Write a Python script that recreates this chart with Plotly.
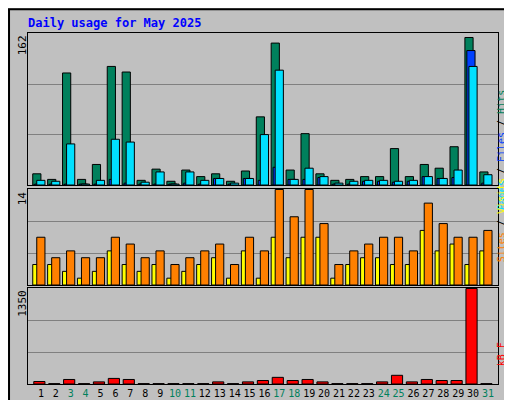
import plotly.graph_objects as go
from plotly.subplots import make_subplots

days = list(range(1, 32))
hits = [12, 6, 120, 6, 22, 127, 121, 5, 17, 4, 16, 9, 12, 4, 15, 73,
        152, 16, 55, 12, 5, 6, 9, 9, 39, 9, 22, 18, 41, 158, 14]
cyan_vals = [5, 4, 44, 1, 5, 49, 46, 3, 14, 1, 14, 5, 7, 2, 7, 54,
             123, 6, 18, 9, 2, 4, 5, 5, 4, 5, 9, 7, 16, 127, 11]
blue_vals = [1, 1, 1, 1, 1, 6, 2, 1, 1, 1, 2, 1, 7, 1, 7, 5,
             19, 6, 6, 8, 1, 1, 4, 4, 3, 4, 9, 7, 8, 144, 2]
visits = [7, 4, 5, 4, 4, 7, 6, 4, 5, 3, 4, 5, 6, 3, 7, 5,
          14, 10, 14, 9, 3, 5, 6, 7, 7, 5, 12, 9, 7, 7, 8]
sites = [3, 3, 2, 1, 2, 5, 3, 2, 3, 1, 2, 3, 4, 1, 5, 1,
         7, 4, 7, 7, 1, 3, 4, 4, 3, 3, 8, 5, 6, 3, 5]
kbytes = [35, 5, 64, 5, 30, 79, 64, 5, 5, 5, 5, 5, 30, 5, 30, 49,
          94, 49, 64, 30, 5, 5, 5, 30, 123, 30, 64, 49, 49, 1350, 5]
weekend = [3, 4, 10, 11, 17, 18, 24, 25, 31]

BG = "#C0C0C0"
C_HITS, C_FILES, C_PAGES = "#00805C", "#0040FF", "#00E0FF"
C_VISITS, C_SITES, C_KB = "#FF8000", "#FFFF00", "#FF0000"
MONO = "DejaVu Sans Mono"

fig = make_subplots(rows=3, cols=1)


def bars(vals, color, offset, width, row):
    fig.add_trace(go.Bar(x=days, y=vals, marker_color=color, offset=offset, width=width,
                         marker_line_color="black", marker_line_width=1), row=row, col=1)


bars(hits, C_HITS, -0.55, 0.55, 1)
bars(blue_vals, C_FILES, -0.42, 0.55, 1)
bars(cyan_vals, C_PAGES, -0.28, 0.55, 1)
bars(sites, C_SITES, -0.55, 0.55, 2)
bars(visits, C_VISITS, -0.28, 0.55, 2)
bars(kbytes, C_KB, -0.48, 0.75, 3)

xr = [0.13, 31.67]
doms = [(0.5575, 0.9375), (0.3075, 0.5475), (0.06, 0.30)]
maxes = [162, 14, 1350]
for i in range(3):
    n = "" if i == 0 else str(i + 1)
    fig.layout["xaxis" + n].update(domain=[0.039, 0.957], range=xr, showgrid=False,
                                   showline=True, mirror=True, linecolor="black",
                                   ticks="", showticklabels=(i == 2), zeroline=False)
    fig.layout["yaxis" + n].update(domain=list(doms[i]), range=[0, maxes[i] * 1.005],
                                   tickvals=[maxes[i] / 3, maxes[i] * 2 / 3],
                                   showticklabels=False, gridcolor="#808080",
                                   showline=True, mirror=True, linecolor="black",
                                   zeroline=False)
    fig.add_annotation(xref="paper", yref="paper", x=0.028, y=doms[i][1], text=str(maxes[i]),
                       textangle=-90, showarrow=False, xanchor="center", yanchor="top",
                       font=dict(family=MONO, size=11, color="black"))

ticktext = [f'<span style="color:#00805C">{d}</span>' if d in weekend else str(d) for d in days]
fig.update_xaxes(tickvals=days, ticktext=ticktext, tickangle=0,
                 tickfont=dict(family=MONO, size=10, color="black"), row=3, col=1)


def side(text, ymid):
    fig.add_annotation(xref="paper", yref="paper", x=0.978, y=ymid, text=text, textangle=-90,
                       showarrow=False, font=dict(family=MONO, size=10))


side(f'<span style="color:{C_PAGES}">Pages</span><span style="color:black"> / </span>'
     f'<span style="color:{C_FILES}">Files</span><span style="color:black"> / </span>'
     f'<span style="color:{C_HITS}">Hits</span>', 0.80)
side(f'<span style="color:{C_VISITS}">Sites</span><span style="color:black"> / </span>'
     f'<span style="color:{C_SITES}">Visits</span>', 0.47)
side(f'<span style="color:{C_KB}">kB F</span>', 0.10)

fig.add_annotation(xref="paper", yref="paper", x=0.035, y=0.985, xanchor="left", yanchor="top",
                   text="<b>Daily usage for May 2025</b>", showarrow=False,
                   font=dict(family=MONO, size=12, color="#0000FF"))

fig.add_shape(type="rect", xref="paper", yref="paper", x0=0.002, y0=0.003, x1=0.998, y1=0.997,
              line=dict(color="black", width=2))
fig.add_shape(type="line", xref="paper", yref="paper", x0=0.01, y0=0.012, x1=0.99, y1=0.012,
              line=dict(color="#808080", width=3))
fig.add_shape(type="line", xref="paper", yref="paper", x0=0.99, y0=0.012, x1=0.99, y1=0.99,
              line=dict(color="#808080", width=3))

fig.update_layout(width=512, height=400, margin=dict(l=0, r=0, t=0, b=0), barmode="overlay",
                  showlegend=False, paper_bgcolor=BG, plot_bgcolor=BG)

fig.write_html("out.html")
